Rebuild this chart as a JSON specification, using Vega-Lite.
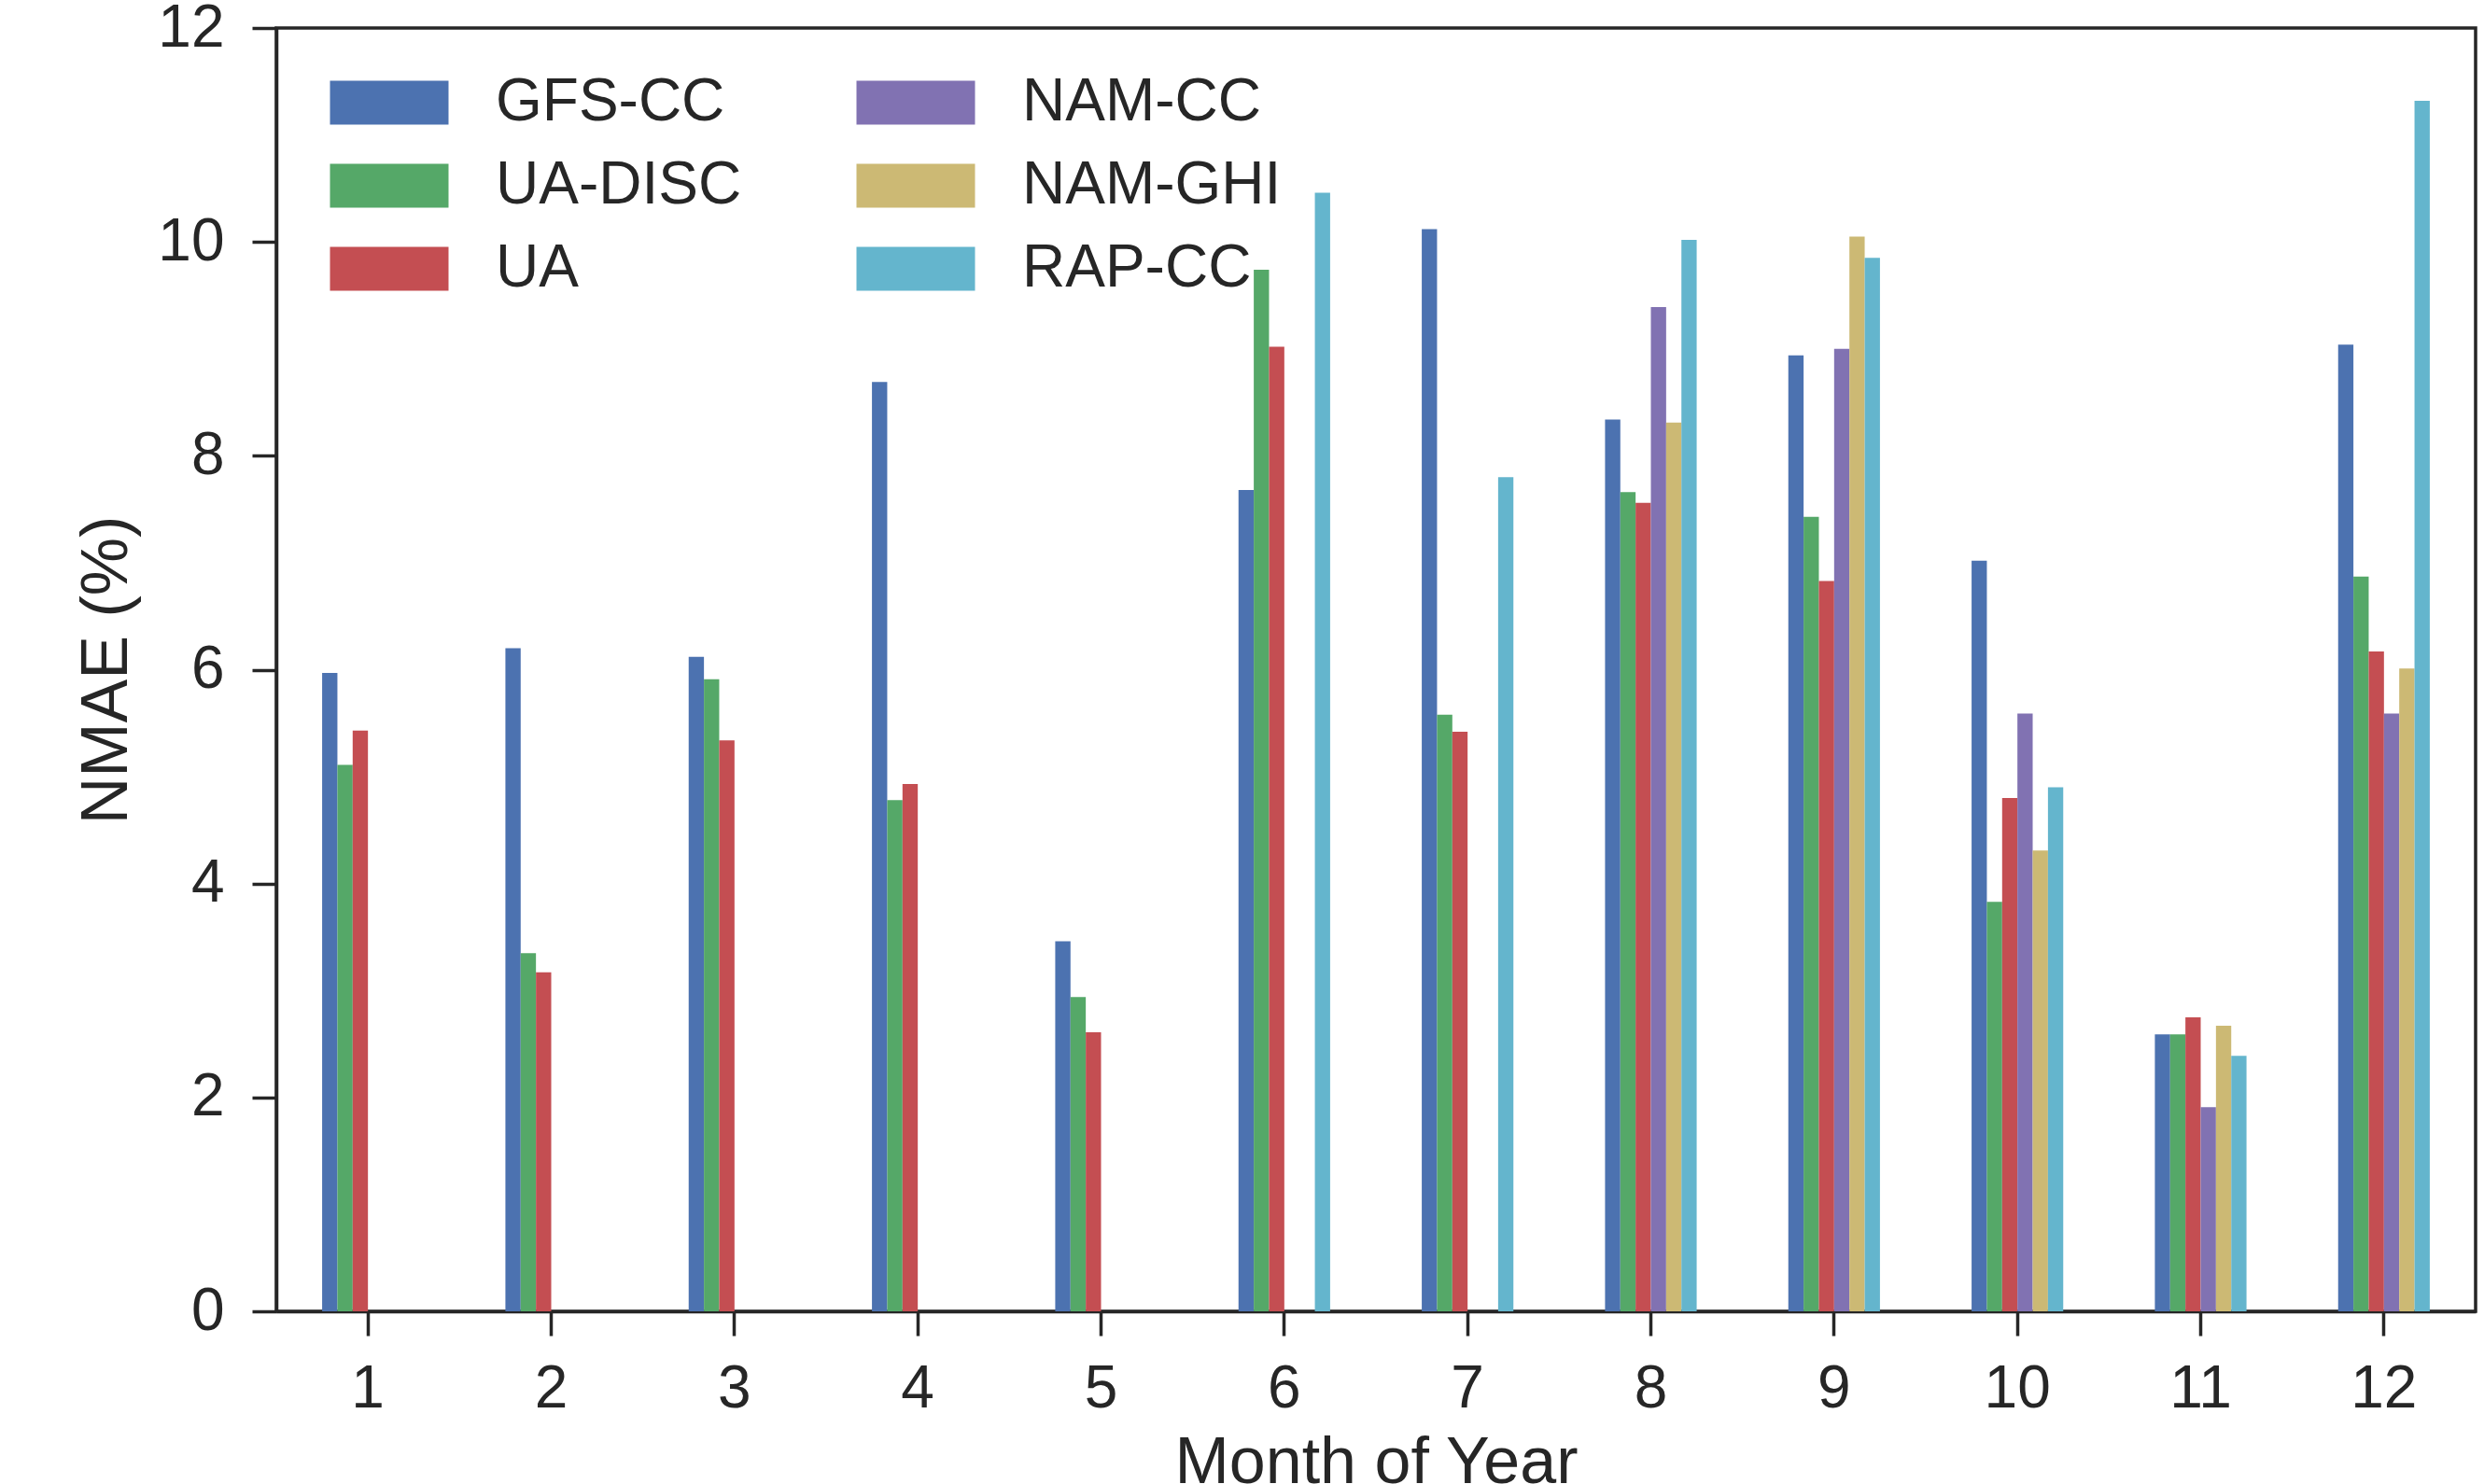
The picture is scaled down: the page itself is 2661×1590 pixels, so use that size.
{
  "$schema": "https://vega.github.io/schema/vega-lite/v6.json",
  "width": 2356,
  "height": 1375,
  "autosize": {"type": "none"},
  "padding": {"left": 296, "top": 30, "right": 9, "bottom": 185},
  "background": "white",
  "config": {
    "view": {"stroke": "#262626", "strokeWidth": 3.5},
    "font": "Liberation Sans",
    "axis": {
      "grid": false,
      "domainColor": "#262626",
      "domainWidth": 3.5,
      "tickColor": "#262626",
      "tickWidth": 3.5,
      "tickSize": 26,
      "labelFont": "Liberation Sans",
      "labelFontSize": 64,
      "labelColor": "#262626",
      "titleFont": "Liberation Sans",
      "titleFontSize": 70,
      "titleFontWeight": "normal",
      "titleColor": "#262626"
    }
  },
  "data": {
    "values": [
      {"month": 1, "model": "GFS-CC", "nmae": 5.97},
      {"month": 1, "model": "UA-DISC", "nmae": 5.11},
      {"month": 1, "model": "UA", "nmae": 5.43},
      {"month": 2, "model": "GFS-CC", "nmae": 6.20},
      {"month": 2, "model": "UA-DISC", "nmae": 3.35},
      {"month": 2, "model": "UA", "nmae": 3.17},
      {"month": 3, "model": "GFS-CC", "nmae": 6.12},
      {"month": 3, "model": "UA-DISC", "nmae": 5.91},
      {"month": 3, "model": "UA", "nmae": 5.34},
      {"month": 4, "model": "GFS-CC", "nmae": 8.69},
      {"month": 4, "model": "UA-DISC", "nmae": 4.78},
      {"month": 4, "model": "UA", "nmae": 4.93},
      {"month": 5, "model": "GFS-CC", "nmae": 3.46},
      {"month": 5, "model": "UA-DISC", "nmae": 2.94},
      {"month": 5, "model": "UA", "nmae": 2.61},
      {"month": 6, "model": "GFS-CC", "nmae": 7.68},
      {"month": 6, "model": "UA-DISC", "nmae": 9.74},
      {"month": 6, "model": "UA", "nmae": 9.02},
      {"month": 6, "model": "RAP-CC", "nmae": 10.46},
      {"month": 7, "model": "GFS-CC", "nmae": 10.12},
      {"month": 7, "model": "UA-DISC", "nmae": 5.58},
      {"month": 7, "model": "UA", "nmae": 5.42},
      {"month": 7, "model": "RAP-CC", "nmae": 7.80},
      {"month": 8, "model": "GFS-CC", "nmae": 8.34},
      {"month": 8, "model": "UA-DISC", "nmae": 7.66},
      {"month": 8, "model": "UA", "nmae": 7.56},
      {"month": 8, "model": "NAM-CC", "nmae": 9.39},
      {"month": 8, "model": "NAM-GHI", "nmae": 8.31},
      {"month": 8, "model": "RAP-CC", "nmae": 10.02},
      {"month": 9, "model": "GFS-CC", "nmae": 8.94},
      {"month": 9, "model": "UA-DISC", "nmae": 7.43},
      {"month": 9, "model": "UA", "nmae": 6.83},
      {"month": 9, "model": "NAM-CC", "nmae": 9.00},
      {"month": 9, "model": "NAM-GHI", "nmae": 10.05},
      {"month": 9, "model": "RAP-CC", "nmae": 9.85},
      {"month": 10, "model": "GFS-CC", "nmae": 7.02},
      {"month": 10, "model": "UA-DISC", "nmae": 3.83},
      {"month": 10, "model": "UA", "nmae": 4.80},
      {"month": 10, "model": "NAM-CC", "nmae": 5.59},
      {"month": 10, "model": "NAM-GHI", "nmae": 4.31},
      {"month": 10, "model": "RAP-CC", "nmae": 4.90},
      {"month": 11, "model": "GFS-CC", "nmae": 2.59},
      {"month": 11, "model": "UA-DISC", "nmae": 2.59},
      {"month": 11, "model": "UA", "nmae": 2.75},
      {"month": 11, "model": "NAM-CC", "nmae": 1.91},
      {"month": 11, "model": "NAM-GHI", "nmae": 2.67},
      {"month": 11, "model": "RAP-CC", "nmae": 2.39},
      {"month": 12, "model": "GFS-CC", "nmae": 9.04},
      {"month": 12, "model": "UA-DISC", "nmae": 6.87},
      {"month": 12, "model": "UA", "nmae": 6.17},
      {"month": 12, "model": "NAM-CC", "nmae": 5.59},
      {"month": 12, "model": "NAM-GHI", "nmae": 6.01},
      {"month": 12, "model": "RAP-CC", "nmae": 11.32}
    ]
  },
  "mark": {"type": "bar"},
  "encoding": {
    "x": {
      "field": "month",
      "type": "ordinal",
      "scale": {"paddingInner": 0.5, "paddingOuter": 0.25},
      "axis": {
        "title": "Month of Year",
        "labelAngle": 0,
        "labelBaseline": "alphabetic",
        "labelPadding": 76,
        "titleX": 1178,
        "titleY": 183,
        "titleBaseline": "alphabetic"
      }
    },
    "xOffset": {
      "field": "model",
      "type": "nominal",
      "scale": {"domain": ["GFS-CC", "UA-DISC", "UA", "NAM-CC", "NAM-GHI", "RAP-CC"], "paddingInner": 0, "paddingOuter": 0}
    },
    "y": {
      "field": "nmae",
      "type": "quantitative",
      "scale": {"domain": [0, 12], "nice": false},
      "axis": {
        "title": "NMAE (%)",
        "values": [0, 2, 4, 6, 8, 10, 12],
        "labelPadding": 30,
        "titleX": -182,
        "titleY": 687.5,
        "titleBaseline": "middle"
      }
    },
    "color": {
      "field": "model",
      "type": "nominal",
      "scale": {
        "domain": ["GFS-CC", "UA-DISC", "UA", "NAM-CC", "NAM-GHI", "RAP-CC"],
        "range": ["#4C72B0", "#55A868", "#C44E52", "#8172B2", "#CCB974", "#64B5CD"]
      },
      "legend": {
        "title": null,
        "orient": "none",
        "legendX": 49,
        "legendY": 48,
        "columns": 2,
        "padding": 0,
        "symbolType": "M-1,-1L4.404,-1L4.404,1L-1,1Z",
        "symbolSize": 2209,
        "symbolStrokeWidth": 0,
        "symbolOpacity": 1,
        "labelFont": "Liberation Sans",
        "labelFontSize": 64,
        "labelColor": "#262626",
        "labelOffset": 122,
        "labelLimit": 0,
        "columnPadding": 114,
        "rowPadding": 25
      }
    }
  }
}
